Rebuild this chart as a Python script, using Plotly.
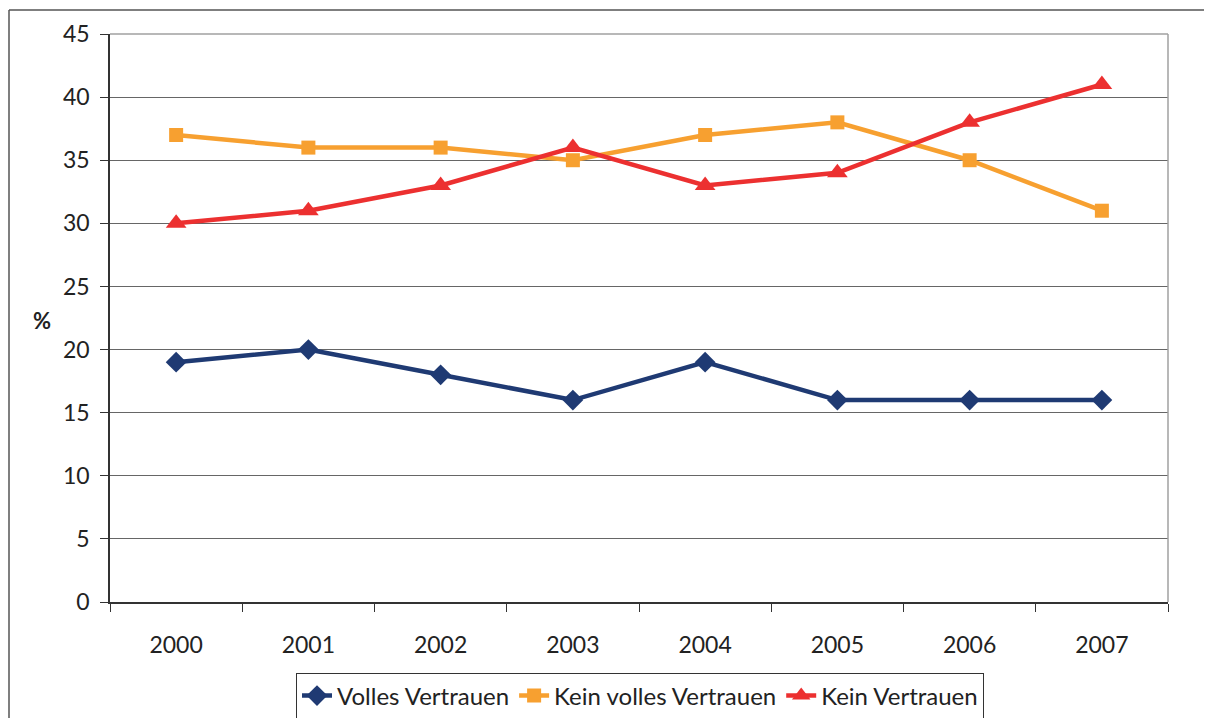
import plotly.graph_objects as go

years = ["2000", "2001", "2002", "2003", "2004", "2005", "2006", "2007"]
volles = [19, 20, 18, 16, 19, 16, 16, 16]
kein_volles = [37, 36, 36, 35, 37, 38, 35, 31]
kein = [30, 31, 33, 36, 33, 34, 38, 41]
y_ticks = [0, 5, 10, 15, 20, 25, 30, 35, 40, 45]

series = [
    ("Volles Vertrauen", volles, "#1F3A73", "diamond", 16),
    ("Kein volles Vertrauen", kein_volles, "#F7A030", "square", 14),
    ("Kein Vertrauen", kein, "#EC3030", "triangle-up", 18),
]

fig = go.Figure()
for name, vals, color, sym, size in series:
    fig.add_trace(go.Scatter(
        x=years, y=vals, name=name, mode="lines+markers",
        line=dict(color=color, width=4.5),
        marker=dict(symbol=sym, size=size, color=color),
    ))

# page content is offset by the 8px body margin
OFF = 8
W, H = 1212 - 2 * OFF, 726 - 2 * OFF
L = 110 - OFF
T = 34 - OFF
R = W - (1168 - OFF)
B = H - (602 - OFF)
pw, ph = W - L - R, H - T - B

def px(x):
    return (x - OFF - L) / pw

def py(y):
    return (H - B - (y - OFF)) / ph

fig.update_layout(
    width=W, height=H,
    margin=dict(l=L, r=R, t=T, b=B, autoexpand=False),
    paper_bgcolor="white", plot_bgcolor="white",
    font=dict(family="Lato, DejaVu Sans, sans-serif", size=23, color="#222222"),
    showlegend=True,
    legend=dict(
        orientation="h", x=px(640), xanchor="center", y=py(696), yanchor="middle",
        bordercolor="#333333", borderwidth=1,
        font=dict(family="Lato, sans-serif", size=24, color="#222222"),
        tracegroupgap=0,
    ),
    xaxis=dict(
        type="category", range=[-0.5, 7.5], tickson="boundaries",
        ticks="outside", ticklen=8, tickcolor="#333333",
        showline=True, linecolor="#333333", linewidth=1.5,
        showgrid=False, ticklabelstandoff=22,
        tickfont=dict(size=23),
    ),
    yaxis=dict(
        range=[0, 45], tickvals=y_ticks, ticktext=[str(v) for v in y_ticks],
        ticks="outside", ticklen=8, tickcolor="#333333",
        showline=True, linecolor="#333333", linewidth=1.5,
        showgrid=True, gridcolor="#666666", gridwidth=1,
        zeroline=False, tickfont=dict(size=23), ticklabelstandoff=6,
    ),
    shapes=[
        # outer frame: top and left edges
        dict(type="line", xref="paper", yref="paper",
             x0=px(9), x1=px(1230), y0=py(10), y1=py(10),
             line=dict(color="#555555", width=1.5), layer="below"),
        dict(type="line", xref="paper", yref="paper",
             x0=px(9), x1=px(9), y0=py(10), y1=py(760),
             line=dict(color="#555555", width=1.5), layer="below"),
        # plot area top & right frame
        dict(type="line", xref="paper", yref="paper", x0=0, x1=1, y0=1, y1=1,
             line=dict(color="#A0A0A0", width=1.5)),
        dict(type="line", xref="paper", yref="paper", x0=1, x1=1, y0=0, y1=1,
             line=dict(color="#A0A0A0", width=1.5)),
    ],
    annotations=[
        dict(text="<b>%</b>", xref="paper", yref="paper", x=px(42), y=py(320),
             showarrow=False, font=dict(size=22, color="#222222"),
             xanchor="center", yanchor="middle"),
    ],
)

fig.write_html("out.html", config={"displayModeBar": False})
